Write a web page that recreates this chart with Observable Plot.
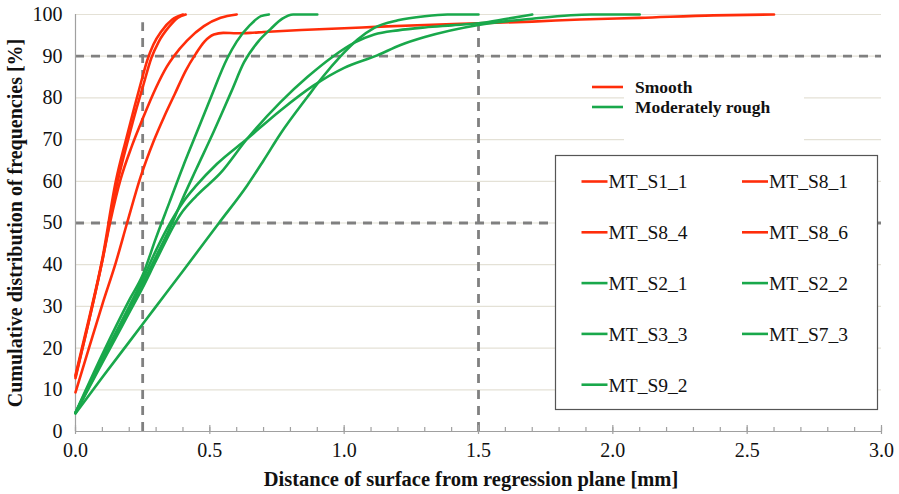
<!DOCTYPE html>
<html><head><meta charset="utf-8">
<script src="https://cdn.jsdelivr.net/npm/d3@7"></script>
<script src="https://cdn.jsdelivr.net/npm/@observablehq/plot@0.6"></script>
<style>
body{margin:0;background:#fff;}
#chart{width:899px;height:494px;}
svg{font-family:"Liberation Serif","Times New Roman",serif;}
</style></head><body><div id="chart"></div>
<script>
// ---- data (x = distance [mm], y = cumulative frequency [%]) ----
const MT_S1_1 = [[0,13.5],[0.05,27],[0.1,41.5],[0.15,60],[0.19,70.5],[0.22,78],[0.245,84],[0.267,89],[0.29,92.8],[0.32,96],[0.36,98.8],[0.40,100]];
const MT_S8_1 = [[0,13.2],[0.05,26.5],[0.1,41],[0.15,58],[0.2,71],[0.225,77],[0.25,82.5],[0.282,89.5],[0.31,93.5],[0.35,97.2],[0.38,99.2],[0.41,100]];
const MT_S8_4 = [[0,12.8],[0.05,26.5],[0.1,41],[0.13,50.5],[0.168,60.5],[0.21,68.5],[0.25,75],[0.3,82.5],[0.34,87.5],[0.366,90],[0.416,93.8],[0.478,97.2],[0.54,99.2],[0.6,100]];
const MT_S8_6 = [[0,9.4],[0.05,20],[0.1,30.5],[0.15,40.5],[0.192,50],[0.242,61],[0.29,69.5],[0.33,75.5],[0.37,81],[0.41,86.5],[0.447,90.5],[0.48,93.5],[0.515,95.2],[0.55,95.6],[0.6,95.5],[0.65,95.6],[0.7,95.8],[0.84,96.3],[1.0,96.7],[1.135,97.1],[1.3,97.5],[1.5,97.9],[1.7,98.3],[1.88,98.8],[2.1,99.2],[2.375,99.8],[2.6,100]];
const MT_S2_1 = [[0,4.5],[0.1,18.5],[0.2,31.5],[0.25,37.5],[0.3,46.5],[0.35,55],[0.4,63.5],[0.45,71.5],[0.5,79.5],[0.565,89.5],[0.6,93.5],[0.65,97.5],[0.69,99.6],[0.72,100]];
const MT_S2_2 = [[0,4.5],[0.1,17],[0.2,29.5],[0.25,35.5],[0.3,42],[0.36,50],[0.4,56],[0.45,63],[0.515,72],[0.546,76.5],[0.58,81.5],[0.627,88.5],[0.68,93.5],[0.726,96.5],[0.77,99],[0.81,100],[0.9,100]];
const MT_S3_3 = [[0,4.4],[0.1,16.5],[0.2,28.5],[0.25,34.5],[0.3,41],[0.39,52],[0.45,56.5],[0.54,62],[0.639,70.2],[0.763,79],[0.863,85],[0.96,90],[1.04,93.3],[1.112,95.2],[1.2,96.2],[1.3,96.9],[1.4,97.4],[1.5,97.9],[1.6,98.9],[1.7,100]];
const MT_S7_3 = [[0,4.6],[0.1,17.5],[0.2,30],[0.25,36.5],[0.3,43.5],[0.354,50.2],[0.4,55],[0.45,59],[0.527,64.2],[0.639,70.2],[0.763,77],[0.887,83],[1.0,87.2],[1.123,90.2],[1.21,92.7],[1.3,94.6],[1.5,97.5],[1.7,99],[1.92,100],[2.1,100]];
const MT_S9_2 = [[0,4.3],[0.1,13],[0.2,21.5],[0.3,30],[0.4,38.5],[0.534,50],[0.639,59],[0.7,65],[0.763,71.4],[0.863,80.2],[0.92,85],[0.987,90],[1.05,94],[1.112,96.8],[1.2,98.6],[1.3,99.6],[1.384,100],[1.5,100]];

const seriesNames = ["MT_S1_1","MT_S8_1","MT_S8_4","MT_S8_6","MT_S2_1","MT_S2_2","MT_S3_3","MT_S7_3","MT_S9_2"];
const seriesGroups = ["Smooth","Smooth","Smooth","Smooth","Moderately rough","Moderately rough","Moderately rough","Moderately rough","Moderately rough"];
const seriesValues = [MT_S1_1,MT_S8_1,MT_S8_4,MT_S8_6,MT_S2_1,MT_S2_2,MT_S3_3,MT_S7_3,MT_S9_2];
const groupNames = ["Smooth","Moderately rough"];
const groupColors = ["#ff2d0a","#19a84b"];
const yTicks = [0,10,20,30,40,50,60,70,80,90,100];
const xTicks = [0,0.5,1,1.5,2,2.5,3];
const xMinorTicks = d3.range(0,31).map(i=>i/10);
const refY = [50,90];
const refX = [0.25,1.5];
const xLabel = "Distance of surface from regression plane [mm]";
const yLabel = "Cumulative distribution of frequencies [%]";

const rows = [];
seriesValues.forEach((pts,i)=>pts.forEach(([x,y])=>rows.push({name:seriesNames[i],group:seriesGroups[i],x,y})));

const font = '"Liberation Serif","Times New Roman",serif';
const W = 899, H = 494;
const mL = 75, mR = 18, mT = 14, mB = 63;

const plot = Plot.plot({
  width: W, height: H,
  marginLeft: mL, marginRight: mR, marginTop: mT, marginBottom: mB,
  style: {fontFamily: font, background: "#fff", overflow: "visible"},
  x: {domain: [0,3], label: null},
  y: {domain: [0,100], label: null},
  color: {domain: groupNames, range: groupColors},
  marks: [
    Plot.gridY(yTicks.filter(d=>d>0), {stroke: "#e4e1d6", strokeOpacity: 1, strokeWidth: 1.2}),
    Plot.ruleY(refY, {stroke: "#808080", strokeWidth: 2.8, strokeDasharray: "9,7"}),
    Plot.ruleX(refX, {y1: 0, y2: 98, stroke: "#808080", strokeWidth: 2.8, strokeDasharray: "9,7"}),
    Plot.ruleX([0], {y1: 0, y2: 100, stroke: "#a0a0a0", strokeWidth: 1.2}),
    Plot.ruleY([0], {stroke: "#a0a0a0", strokeWidth: 1.2}),
    Plot.axisX(xMinorTicks, {tickSize: -4, text: null, label: null, stroke: "#a0a0a0", strokeWidth: 1.2}),
    Plot.axisX(xTicks, {tickSize: -6, text: null, label: null, stroke: "#a0a0a0", strokeWidth: 1.2}),
    Plot.axisX(xTicks, {tickSize: 3, tickPadding: 8, tickFormat: d3.format(".1f"), fontSize: 20, fill: "#111", stroke: "#a0a0a0", strokeWidth: 1.2, label: null}),
    Plot.axisY(yTicks, {tickSize: 0, tickPadding: 13, fontSize: 20, fill: "#111", label: null}),
    Plot.line(rows, {x: "x", y: "y", z: "name", stroke: "group", strokeWidth: 2.6, curve: "monotone-x"})
  ]
});
document.getElementById("chart").append(plot);

const svg = d3.select(plot);
// axis titles
svg.append("text").attr("x", 471).attr("y", 486)
  .attr("text-anchor","middle").attr("font-weight","bold").attr("font-size",20.5)
  .attr("font-family",font).attr("fill","#111").text(xLabel);
svg.append("text").attr("transform","translate(22,223) rotate(-90)")
  .attr("text-anchor","middle").attr("font-weight","bold").attr("font-size",20)
  .attr("font-family",font).attr("fill","#111").text(yLabel);

// group legend
const g1 = svg.append("g").attr("text-anchor","start");
g1.append("rect").attr("x",624).attr("y",68).attr("width",180).attr("height",76).attr("fill","#fff");
groupNames.forEach((n,i)=>{
  const yy = 87 + i*20;
  g1.append("line").attr("x1",592).attr("x2",623).attr("y1",yy).attr("y2",yy)
    .attr("stroke",groupColors[i]).attr("stroke-width",2.6);
  g1.append("text").attr("x",635).attr("y",yy).attr("dy","0.35em").attr("text-anchor","start")
    .attr("font-weight","bold").attr("font-size",17.5).attr("font-family",font).attr("fill","#111").text(n);
});

// series legend
const g2 = svg.append("g").attr("text-anchor","start");
g2.append("rect").attr("x",555.5).attr("y",155.5).attr("width",322).attr("height",254)
  .attr("fill","#fff").attr("stroke","#555").attr("stroke-width",1.2);
seriesNames.forEach((n,i)=>{
  const col = i % 2;
  const row = Math.floor(i/2);
  const x0 = col === 0 ? 581.5 : 742;
  const yy = 181.5 + row*50.8;
  const c = groupColors[groupNames.indexOf(seriesGroups[i])];
  g2.append("line").attr("x1",x0).attr("x2",x0+26).attr("y1",yy).attr("y2",yy)
    .attr("stroke",c).attr("stroke-width",2.6);
  g2.append("text").attr("x",x0+27).attr("y",yy).attr("dy","0.35em").attr("text-anchor","start")
    .attr("font-size",19.5).attr("font-family",font).attr("fill","#111").text(n);
});
</script></body></html>
